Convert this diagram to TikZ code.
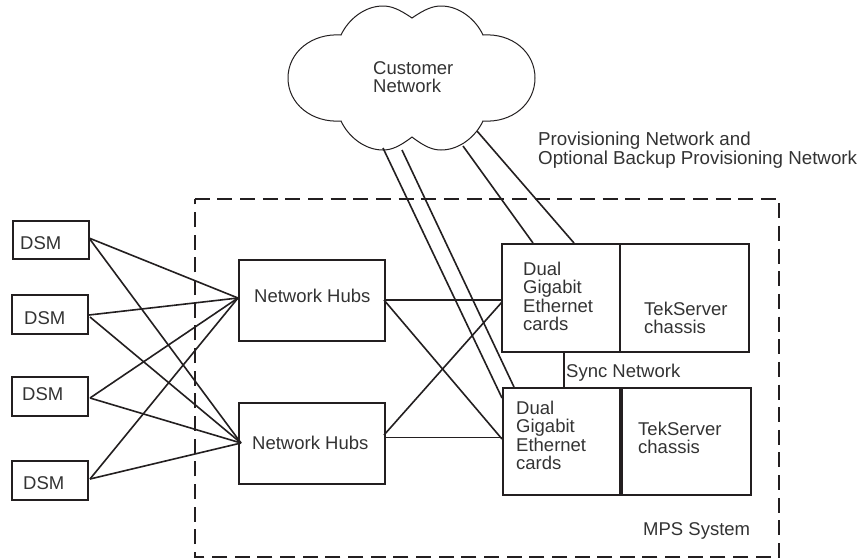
\documentclass[tikz,border=0pt]{standalone}
\usepackage{fontspec}
\setmainfont{Liberation Sans}
\definecolor{ink}{HTML}{231F20}
\definecolor{txt}{HTML}{333333}
\tikzset{
  boxn/.style={draw=ink,line width=1.6pt,inner sep=0pt},
  wire/.style={draw=ink,line width=1.6pt},
  lab/.style={anchor=north west,inner sep=0pt,align=left,text=txt,font=\fontsize{18.5}{18.3}\selectfont},
  labw/.style={lab,font=\fontsize{18.75}{18.6}\selectfont},
}
\newcommand{\pbox}[5]{\node[boxn,minimum width=#4-#2,minimum height=#5-#3] (#1) at ({(#2+#4)/2},{(#3+#5)/2}) {};}
\begin{document}
\begin{tikzpicture}[x=1pt,y=-1pt]
\useasboundingbox (0,0) rectangle (863,558);
\fill[white] (0,0) rectangle (863,558);
% MPS boundary
\node[inner sep=0pt,minimum width=584,minimum height=358] (mps) at (487,378) {};
\draw[ink,line width=1.5pt,dash pattern=on 15pt off 7.65pt] (mps.north west) -- (mps.north east) -- (mps.south east) -- (mps.south west) -- cycle;
% cloud
\draw[ink,line width=1pt] (412,18)
 .. controls (425,9) and (433,6) .. (441,6)
 .. controls (460,6) and (476,20) .. (483,35)
 .. controls (512,33) and (535,52) .. (535,78)
 .. controls (535,104) and (512,123) .. (483,121)
 .. controls (476,136) and (460,150) .. (441,150)
 .. controls (433,150) and (425,147) .. (412,137)
 .. controls (399,147) and (391,150) .. (383,150)
 .. controls (364,150) and (348,136) .. (341,121)
 .. controls (312,123) and (288,104) .. (288,78)
 .. controls (288,52) and (312,33) .. (341,35)
 .. controls (348,20) and (364,6) .. (383,6)
 .. controls (391,6) and (399,9) .. (412,18) -- cycle;
% boxes
\pbox{dsma}{13}{221}{89}{259}
\pbox{dsmb}{12}{295}{88}{334}
\pbox{dsmc}{12}{377}{88}{416}
\pbox{dsmd}{12}{461}{88}{500}
\pbox{huba}{239}{260}{385}{341}
\pbox{hubb}{239}{403}{385}{484}
\pbox{carda}{502}{244}{620}{352}
\pbox{chasa}{620}{244}{749}{352}
\pbox{cardb}{503}{388}{620}{495}
\pbox{chasb}{622}{388}{751}{495}
% connector ends
\coordinate (ca) at (383,148);
\coordinate (cb) at (402,150);
\coordinate (cc) at (463,146);
\coordinate (cd) at (477,131);
\coordinate (ta) at (502,398);
\coordinate (tb) at (514,387);
\coordinate (tc) at (533,243);
\coordinate (td) at (574,243);
\coordinate (ha) at (238,298);
\coordinate (hb) at (241,443);
\coordinate (da) at (89,238);
\coordinate (db) at (89,315);
\coordinate (dbb) at (90,317);
\coordinate (dc) at (90,398);
\coordinate (dd) at (90,479);
\coordinate (hra) at (384,300);
\coordinate (hrb) at (384,435);
\coordinate (hrbb) at (385,437.5);
\coordinate (ka) at (502,300);
\coordinate (kaa) at (502,302);
\coordinate (kb) at (502,439);
\coordinate (kbb) at (502,437.5);
\coordinate (sa) at (564,352);
\coordinate (sb) at (564,388);
% wires
\draw[wire] (da)--(ha); \draw[wire] (da)--(hb);
\draw[wire] (db)--(ha); \draw[wire] (dbb)--(hb);
\draw[wire] (dc)--(ha); \draw[wire] (dc)--(hb);
\draw[wire] (dd)--(ha); \draw[wire] (dd)--(hb);
\draw[wire] (hra)--(ka); \draw[wire] (hra)--(kb);
\draw[wire] (hrb)--(kaa); \draw[wire] (hrbb)--(kbb);
\draw[wire] (ca)--(ta); \draw[wire] (cb)--(tb);
\draw[wire] (cc)--(tc); \draw[wire] (cd)--(td);
\draw[wire] (sa)--(sb);
% labels
\node[lab] (tcust) at (373,61) {Customer\\Network};
\node[labw] (tprov) at (538,132) {Provisioning Network and\\Optional Backup Provisioning Network};
\node[lab] (tda) at (20,236) {DSM};
\node[lab] (tdb) at (24,311) {DSM};
\node[lab] (tdc) at (22,387) {DSM};
\node[lab] (tdd) at (23,476) {DSM};
\node[lab] (tha) at (254,289) {Network Hubs};
\node[lab] (thb) at (252,436) {Network Hubs};
\node[lab] (tca) at (523,262) {Dual\\Gigabit\\Ethernet\\cards};
\node[lab] (tcb) at (516,401) {Dual\\Gigabit\\Ethernet\\cards};
\node[lab] (tsa) at (644,302) {TekServer\\chassis};
\node[lab] (tsb) at (638,422) {TekServer\\chassis};
\node[lab] (tsync) at (566,364) {Sync Network};
\node[lab] (tmps) at (643,522) {MPS System};
\end{tikzpicture}
\end{document}
